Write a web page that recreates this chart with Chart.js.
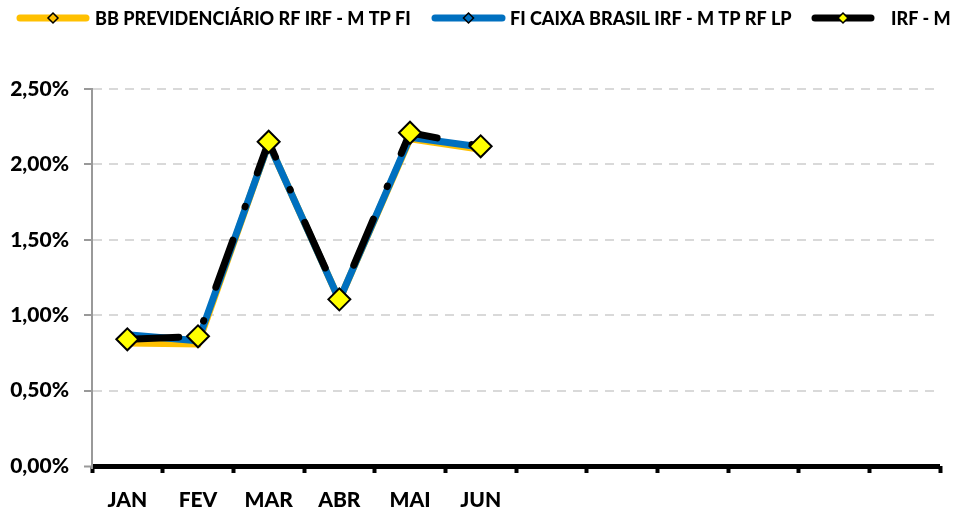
<!DOCTYPE html>
<html>
<head>
<meta charset="utf-8">
<script src="https://cdn.jsdelivr.net/npm/chart.js@4"></script>
<style>
  html, body { margin: 0; padding: 0; background: #fff; }
</style>
</head>
<body>
<canvas id="js-canvas-irfm" width="953" height="511"></canvas>
<script>
const months = ['JAN', 'FEV', 'MAR', 'ABR', 'MAI', 'JUN', '', '', '', '', '', ''];
const bbPrevidenciario = [0.815, 0.81, 2.14, 1.10, 2.17, 2.10];
const caixaBrasil = [0.87, 0.83, 2.14, 1.10, 2.18, 2.115];
const irfM = [0.84, 0.86, 2.15, 1.105, 2.21, 2.12];
const yTicks = [0, 0.5, 1, 1.5, 2, 2.5];

const FONT = 'Lato';
const WEIGHT = 900;

// legend drawn by hand: line + small diamond + label, like the spreadsheet one
const lineLegend = {
  id: 'lineLegend',
  afterDraw(chart) {
    const ctx = chart.ctx;
    const starts = [17, 432, 812];
    const lengths = [72, 73, 62];
    const textX = [95, 510, 891];
    ctx.save();
    ctx.font = `${WEIGHT} 18px ${FONT}`;
    ctx.textBaseline = 'middle';
    chart.data.datasets.forEach((ds, i) => {
      const x = starts[i];
      const len = lengths[i];
      const y = 18;
      ctx.setLineDash([]);
      ctx.lineCap = 'round';
      ctx.lineWidth = 7;
      ctx.strokeStyle = ds.borderColor;
      ctx.beginPath();
      ctx.moveTo(x + 3, y);
      ctx.lineTo(x + len - 3, y);
      ctx.stroke();

      const cx = x + len / 2;
      const r = 5;
      ctx.beginPath();
      ctx.moveTo(cx, y - r);
      ctx.lineTo(cx + r, y);
      ctx.lineTo(cx, y + r);
      ctx.lineTo(cx - r, y);
      ctx.closePath();
      ctx.fillStyle = ds.pointBackgroundColor;
      ctx.fill();
      ctx.lineWidth = 1.5;
      ctx.strokeStyle = '#000';
      ctx.stroke();

      ctx.fillStyle = '#000';
      ctx.fillText(ds.label, textX[i], y + 1);
    });
    ctx.restore();
  }
};

const ctx = document.getElementById('js-canvas-irfm');
new Chart(ctx, {
  type: 'line',
  data: {
    labels: months,
    datasets: [
      {
        label: 'BB PREVIDENCIÁRIO RF IRF - M TP FI',
        data: bbPrevidenciario,
        borderColor: '#FFC000',
        backgroundColor: '#FFC000',
        borderWidth: 7,
        pointStyle: 'rectRot',
        pointRadius: 4,
        pointBackgroundColor: '#FFC000',
        pointBorderColor: '#000',
        pointBorderWidth: 1,
        order: 3,
        fill: false
      },
      {
        label: 'FI CAIXA BRASIL IRF - M TP RF LP',
        data: caixaBrasil,
        borderColor: '#0070C0',
        backgroundColor: '#0070C0',
        borderWidth: 7,
        pointStyle: 'rectRot',
        pointRadius: 4,
        pointBackgroundColor: '#0070C0',
        pointBorderColor: '#000',
        pointBorderWidth: 1,
        order: 2,
        fill: false
      },
      {
        label: 'IRF - M',
        data: irfM,
        borderColor: '#000',
        backgroundColor: '#000',
        borderWidth: 7,
        borderDash: [50, 35.5, 0.5, 35.5],
        borderDashOffset: -1.5,
        borderCapStyle: 'round',
        borderJoinStyle: 'round',
        pointStyle: 'rectRot',
        pointRadius: 11,
        pointBackgroundColor: '#FFFF00',
        pointBorderColor: '#000',
        pointBorderWidth: 2,
        order: 1,
        fill: false
      }
    ]
  },
  options: {
    responsive: false,
    animation: false,
    layout: { padding: { top: 89, right: 11, left: 0, bottom: 0 } },
    plugins: {
      legend: { display: false },
      tooltip: { enabled: false }
    },
    scales: {
      x: {
        offset: true,
        afterFit(scale) { scale.height = 45; },
        grid: {
          offset: true,
          drawOnChartArea: false,
          color: '#000',
          tickColor: '#000',
          tickLength: 7,
          tickWidth: 4
        },
        border: { display: false },
        ticks: {
          autoSkip: false,
          maxRotation: 0,
          padding: 15,
          color: '#000',
          font: { family: FONT, weight: WEIGHT, size: 21 }
        }
      },
      y: {
        min: 0,
        max: 2.5,
        afterFit(scale) { scale.width = 92; },
        afterBuildTicks(scale) { scale.ticks = yTicks.map(v => ({ value: v })); },
        grid: {
          color: c => (c.tick && c.tick.value === 0 ? '#000' : '#d9d9d9'),
          lineWidth: c => (c.tick && c.tick.value === 0 ? 5 : 2),
          tickColor: '#999',
          tickLength: 8,
          tickWidth: 2,
          tickBorderDash: []
        },
        border: {
          color: '#999',
          width: 2,
          dash: c => (c.tick && c.tick.value === 0 ? [] : [9, 7])
        },
        ticks: {
          padding: 15,
          color: '#000',
          font: { family: FONT, weight: WEIGHT, size: 21 },
          callback: v => v.toFixed(2).replace('.', ',') + '%'
        }
      }
    }
  },
  plugins: [lineLegend]
});
</script>
</body>
</html>
